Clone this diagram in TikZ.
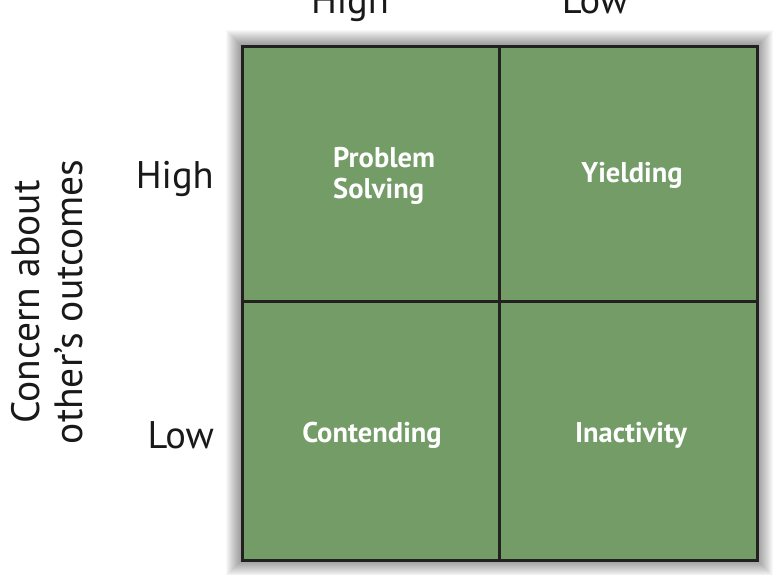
\documentclass[tikz,border=0pt]{standalone}
\usepackage{fontspec}
\setmainfont{PT Sans}
\begin{document}
\begin{tikzpicture}[x=1pt,y=-1pt,
  axislabel/.style={font=\fontsize{38.5}{42}\selectfont, text=black!90, inner sep=0pt},
  celllabel/.style={font=\fontsize{28.5}{31}\selectfont\bfseries, text=white, inner sep=0pt, align=left},
  cellfill/.style={fill=cellgreen},
  gridline/.style={draw=gridgray, line width=3pt}]
\definecolor{cellgreen}{RGB}{115,156,103}
\definecolor{gridgray}{RGB}{35,33,32}
\useasboundingbox (0,0) rectangle (774,574);
\clip (0,0) rectangle (774,574);
\fill[white] (0,0) rectangle (774,574);

% soft shadow around the matrix
\foreach \r in {1,...,16}{
  \fill[black, opacity=0.026] (242-\r,46-\r) rectangle (757+\r,560+\r);
}

% the four cells
\fill[cellfill] (242,46) rectangle (757,560);
\coordinate (tl) at (242,46);
\coordinate (br) at (757,560);
\coordinate (mt) at (499,46);
\coordinate (mb) at (499,560);
\coordinate (ml) at (242,301);
\coordinate (mr) at (757,301);
\draw[gridline] (tl) rectangle (br);
\draw[gridline] (mt) -- (mb);
\draw[gridline] (ml) -- (mr);

% column headings
\node[axislabel, anchor=base] (colhigh) at (350,13) {High};
\node[axislabel, anchor=base] (collow) at (595,13) {Low};

% row headings
\node[axislabel, anchor=base east] (rowhigh) at (214,188) {High};
\node[axislabel, anchor=base east] (rowlow) at (214,448) {Low};

% vertical axis title
\node[font=\fontsize{39.5}{43}\selectfont, text=black!90, inner sep=0pt, align=center,
      rotate=90, anchor=center] (axistitle) at (47,302)
      {Concern about\\other’s outcomes};

% cell texts
\node[celllabel, anchor=base west] (ps) at (333,198) {Problem\\Solving};
\node[celllabel, anchor=base] (yi) at (632,182) {Yielding};
\node[celllabel, anchor=base] (co) at (372,442) {Contending};
\node[celllabel, anchor=base] (in) at (631,442) {Inactivity};
\end{tikzpicture}
\end{document}
